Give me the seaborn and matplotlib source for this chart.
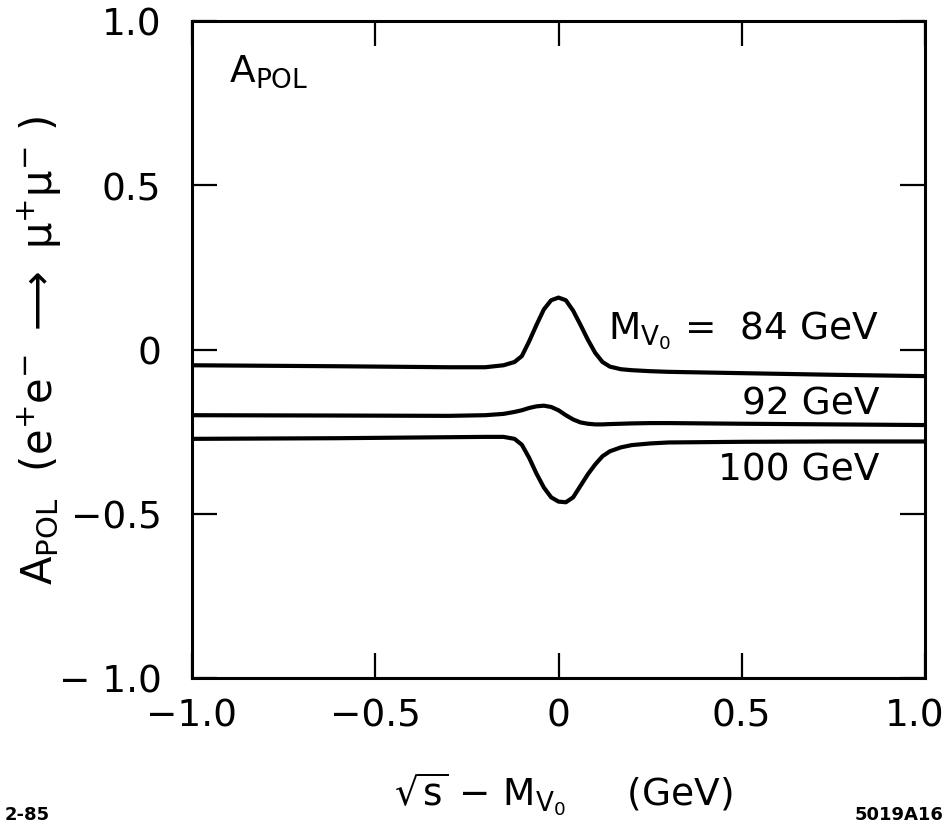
import numpy as np
import pandas as pd
import matplotlib
matplotlib.use("Agg")
import matplotlib.pyplot as plt
import matplotlib.transforms as mtransforms
import seaborn as sns

# ---- data ----
x_vals = [-1.0, -0.6, -0.3, -0.2, -0.15, -0.12, -0.10, -0.08, -0.06, -0.04, -0.02,
          0.00, 0.02, 0.04, 0.06, 0.08, 0.10, 0.12, 0.14, 0.17, 0.20, 0.25, 0.30,
          0.50, 0.75, 1.00]
a_84 = [-0.048, -0.051, -0.054, -0.054, -0.048, -0.038, -0.020, 0.025, 0.075, 0.122, 0.150,
        0.158, 0.150, 0.118, 0.075, 0.030, -0.010, -0.038, -0.052, -0.060, -0.063, -0.066, -0.068,
        -0.072, -0.077, -0.081]
a_92 = [-0.200, -0.201, -0.202, -0.200, -0.196, -0.190, -0.185, -0.178, -0.173, -0.171, -0.175,
        -0.185, -0.200, -0.213, -0.222, -0.226, -0.228, -0.228, -0.227, -0.226, -0.225, -0.224, -0.224,
        -0.226, -0.228, -0.230]
a_100 = [-0.272, -0.270, -0.267, -0.266, -0.266, -0.272, -0.290, -0.330, -0.378, -0.420, -0.450,
         -0.463, -0.465, -0.450, -0.415, -0.380, -0.350, -0.325, -0.310, -0.298, -0.291, -0.286, -0.283,
         -0.281, -0.280, -0.280]
masses = ["84 GeV", "92 GeV", "100 GeV"]
x_ticks = [-1.0, -0.5, 0.0, 0.5, 1.0]
x_tick_labels = ["\u22121.0", "\u22120.5", "0", "0.5", "1.0"]
y_ticks = [-1.0, -0.5, 0.0, 0.5, 1.0]
y_tick_labels = ["\u2212 1.0", "\u22120.5", "0", "0.5", "1.0"]

df = pd.concat([
    pd.DataFrame({"x": x_vals, "y": a_84, "mass": masses[0]}),
    pd.DataFrame({"x": x_vals, "y": a_92, "mass": masses[1]}),
    pd.DataFrame({"x": x_vals, "y": a_100, "mass": masses[2]}),
], ignore_index=True)

sns.set_theme(style="white")
plt.rcParams["font.family"] = ["DejaVu Sans"]
plt.rcParams["mathtext.fontset"] = "dejavusans"
plt.rcParams["text.color"] = "black"
plt.rcParams["axes.labelcolor"] = "black"

fig = plt.figure(figsize=(9.48, 8.29), dpi=100)
ax = fig.add_axes([192 / 948, 1 - 679 / 829, 733 / 948, 657 / 829])

sns.lineplot(data=df, x="x", y="y", hue="mass", palette=["black"] * 3,
             estimator=None, sort=False, linewidth=3.0, legend=False, ax=ax)

ax.set_xlim(-1.0, 1.0)
ax.set_ylim(-1.0, 1.0)
ax.set_xticks(x_ticks)
ax.set_xticklabels(x_tick_labels)
ax.set_yticks(y_ticks)
ax.set_yticklabels(y_tick_labels)
ax.tick_params(axis="both", which="major", direction="in", length=18, width=1.6,
               top=True, right=True, bottom=True, left=True,
               labelsize=27, color="black", labelcolor="black")
ax.tick_params(axis="x", pad=14)
ax.tick_params(axis="y", pad=22)
for s in ax.spines.values():
    s.set_visible(True)
    s.set_color("black")
    s.set_linewidth(2.2)

# keep the last x tick label inside the figure
last = ax.get_xticklabels()[-1]
last.set_transform(last.get_transform() + mtransforms.ScaledTranslation(-10 / 100, 0, fig.dpi_scale_trans))

ax.set_ylabel(r"$\mathregular{A_{POL}\ \ (e^{+}e^{-}\ \longrightarrow\ \mu^{+}\mu^{-}\ )}$",
              fontsize=30, color="black")
ax.yaxis.set_label_coords(-0.176, 0.5)
ax.set_xlabel(r"$\sqrt{\mathregular{s}}\ \mathregular{-\ M_{V_0}}$     (GeV)",
              fontsize=27, color="black")
ax.xaxis.set_label_coords(0.506, -0.14)

ax.text(-0.9, 0.85, r"$\mathregular{A_{POL}}$", fontsize=27, ha="left", va="center")
ax.text(0.875, 0.06, r"$\mathregular{M_{V_0}}$ =  84 GeV", fontsize=27, ha="right", va="center")
ax.text(0.875, -0.165, "92 GeV", fontsize=27, ha="right", va="center")
ax.text(0.875, -0.365, "100 GeV", fontsize=27, ha="right", va="center")

fig.text(5 / 948, 1 - 815 / 829, "2-85", fontsize=13, ha="left", va="center", weight="bold")
fig.text(943 / 948, 1 - 815 / 829, "5019A16", fontsize=13, ha="right", va="center", weight="bold")

fig.savefig("out.png", dpi=100, facecolor="white")
